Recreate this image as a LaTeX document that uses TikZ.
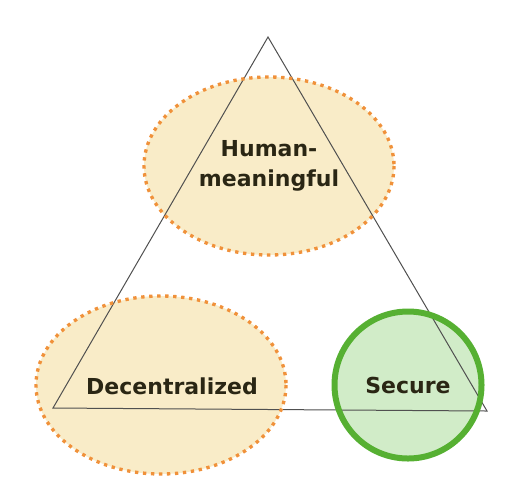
\documentclass[tikz,border=0pt]{standalone}
\usepackage{fontspec}
\setmainfont{DejaVu Sans}
\usetikzlibrary{backgrounds}
\definecolor{softyellow}{HTML}{F9ECC8}
\definecolor{dotorange}{HTML}{F0913A}
\definecolor{softgreen}{HTML}{D1ECC8}
\definecolor{ringgreen}{HTML}{56B032}
\definecolor{labelink}{HTML}{2A2614}
\definecolor{edgegray}{HTML}{505050}
\begin{document}
\begin{tikzpicture}[x=0.75pt, y=-0.75pt]
    \tikzstyle{every node}=[align=center, text=labelink, font=\fontsize{16.5}{22.5}\selectfont\bfseries]
    \tikzstyle{dotted border}=[dotorange, line width=2.5pt, dash pattern=on 2.5pt off 3.5pt]
    \useasboundingbox (0,0) rectangle (530,494);
    % corners of the trilemma
    \coordinate (top) at (268,37);
    \coordinate (left) at (53,408);
    \coordinate (right) at (487,411);
    \node (human) at (269,166) {Human-\\meaningful};
    \node (decentral) at (172,386) {Decentralized};
    \node (secure) at (408,385) {Secure};
    \coordinate (decentralmid) at ([xshift=-8.25pt, yshift=0.75pt]decentral.center);
    \begin{scope}[on background layer]
        \fill[softyellow] (human.center) ellipse [x radius=125, y radius=89];
        \fill[softyellow] (decentralmid) ellipse [x radius=125, y radius=89];
        \fill[softgreen] (secure.center) circle [radius=73.5];
        \draw[edgegray, line width=0.75pt] (top) -- (left) -- (right) -- cycle;
    \end{scope}
    % outlines above the triangle
    \draw[dotted border] (human.center) ellipse [x radius=125, y radius=89];
    \draw[dotted border] (decentralmid) ellipse [x radius=125, y radius=89];
    \draw[ringgreen, line width=4.5pt] (secure.center) circle [radius=73.5];
\end{tikzpicture}
\end{document}
